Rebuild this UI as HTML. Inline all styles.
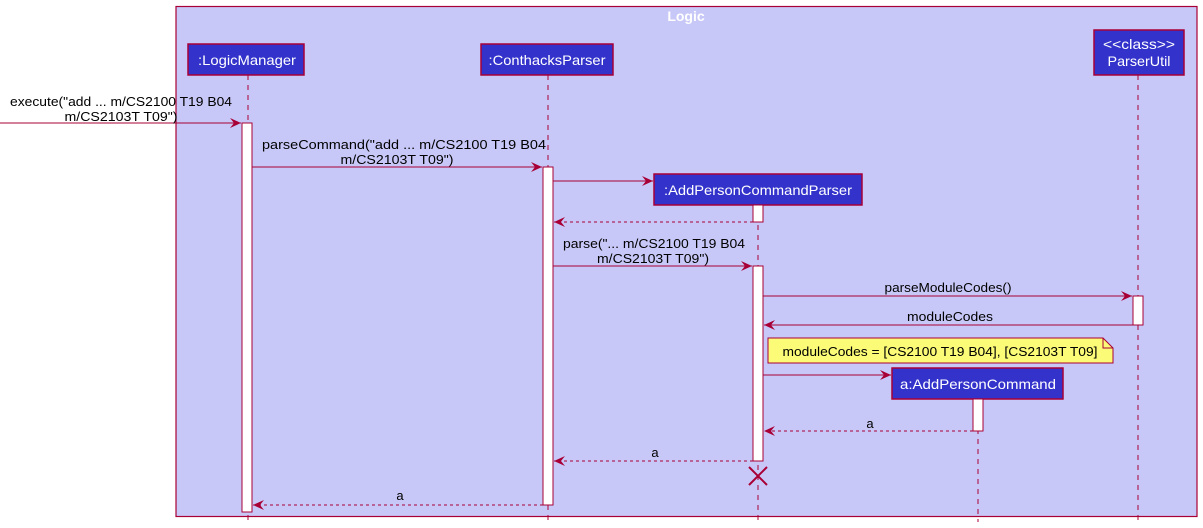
<!DOCTYPE html>
<html><head><meta charset="utf-8"><style>body{margin:0;background:#fff}svg{display:block}text{font-family:"Liberation Sans",sans-serif}</style></head><body>
<svg width="1203" height="528" viewBox="0 0 1203 528" xmlns="http://www.w3.org/2000/svg">
<defs>
<marker id="ah" markerWidth="12" markerHeight="10" refX="11" refY="5" orient="auto" markerUnits="userSpaceOnUse"><path d="M0,0 L11,5 L0,10 L4,5 Z" fill="#a80036"/></marker>
</defs>
<rect x="176" y="6.5" width="1021" height="510" fill="#c8c8f8" stroke="#a80036" stroke-width="1.2"/>
<text x="686" y="21" font-size="14" font-weight="bold" fill="#fff" text-anchor="middle">Logic</text>
<g stroke="#a80036" stroke-width="1" stroke-dasharray="5,5">
<line x1="248" y1="75" x2="248" y2="520"/>
<line x1="548" y1="75" x2="548" y2="520"/>
<line x1="758" y1="205" x2="758" y2="520"/>
<line x1="978" y1="399" x2="978" y2="522"/>
<line x1="1138" y1="75" x2="1138" y2="520"/>
</g>
<g fill="#3333cc" stroke="#a80036" stroke-width="1.5">
<rect x="188" y="44" width="116" height="31"/>
<rect x="481" y="44" width="132" height="31"/>
<rect x="1094" y="30" width="90" height="45"/>
<rect x="654" y="174" width="208" height="31"/>
<rect x="892" y="368" width="171" height="31"/>
</g>
<g fill="#fff" font-size="14" text-anchor="middle">
<text x="247" y="65" textLength="98" lengthAdjust="spacingAndGlyphs">:LogicManager</text>
<text x="547" y="65" textLength="117" lengthAdjust="spacingAndGlyphs">:ConthacksParser</text>
<text x="1139" y="49" textLength="72" lengthAdjust="spacingAndGlyphs">&lt;&lt;class&gt;&gt;</text>
<text x="1139" y="66" textLength="63" lengthAdjust="spacingAndGlyphs">ParserUtil</text>
<text x="758" y="195" textLength="188" lengthAdjust="spacingAndGlyphs">:AddPersonCommandParser</text>
<text x="978" y="389" textLength="156" lengthAdjust="spacingAndGlyphs">a:AddPersonCommand</text>
</g>
<g fill="#fff" stroke="#a80036" stroke-width="1">
<rect x="242" y="123" width="10" height="389"/>
<rect x="543" y="167" width="10" height="338"/>
<rect x="753" y="205" width="10" height="17"/>
<rect x="753" y="266" width="10" height="195"/>
<rect x="1133" y="296" width="10" height="29"/>
<rect x="973" y="399" width="10" height="32"/>
</g>
<g stroke="#a80036" stroke-width="1" fill="none">
<line x1="0" y1="123" x2="241" y2="123" marker-end="url(#ah)"/>
<line x1="252" y1="167" x2="542" y2="167" marker-end="url(#ah)"/>
<line x1="553" y1="181" x2="653" y2="181" marker-end="url(#ah)"/>
<line x1="753" y1="222" x2="554" y2="222" stroke-dasharray="3,3" marker-end="url(#ah)"/>
<line x1="553" y1="266" x2="752" y2="266" marker-end="url(#ah)"/>
<line x1="763" y1="296" x2="1132" y2="296" marker-end="url(#ah)"/>
<line x1="1133" y1="325" x2="764" y2="325" marker-end="url(#ah)"/>
<line x1="763" y1="375" x2="891" y2="375" marker-end="url(#ah)"/>
<line x1="973" y1="431" x2="764" y2="431" stroke-dasharray="3,3" marker-end="url(#ah)"/>
<line x1="753" y1="461" x2="554" y2="461" stroke-dasharray="3,3" marker-end="url(#ah)"/>
<line x1="543" y1="505" x2="253" y2="505" stroke-dasharray="3,3" marker-end="url(#ah)"/>
<path d="M749,467 L767,485 M767,467 L749,485" stroke-width="2"/>
</g>
<path d="M768,338 L1103,338 L1113,348 L1113,363 L768,363 Z" fill="#fbfb77" stroke="#a80036" stroke-width="1"/>
<path d="M1103,338 L1103,348 L1113,348" fill="none" stroke="#a80036" stroke-width="1"/>
<g font-size="13" fill="#000" text-anchor="middle">
<text x="121" y="106" textLength="222" lengthAdjust="spacingAndGlyphs">execute("add ... m/CS2100 T19 B04</text>
<text x="121" y="121" textLength="113" lengthAdjust="spacingAndGlyphs">m/CS2103T T09")</text>
<text x="404" y="149" textLength="284" lengthAdjust="spacingAndGlyphs">parseCommand("add ... m/CS2100 T19 B04</text>
<text x="397" y="164" textLength="113" lengthAdjust="spacingAndGlyphs">m/CS2103T T09")</text>
<text x="654" y="248" textLength="182" lengthAdjust="spacingAndGlyphs">parse("... m/CS2100 T19 B04</text>
<text x="653" y="263" textLength="112" lengthAdjust="spacingAndGlyphs">m/CS2103T T09")</text>
<text x="948" y="292" textLength="127" lengthAdjust="spacingAndGlyphs">parseModuleCodes()</text>
<text x="950" y="321" textLength="86" lengthAdjust="spacingAndGlyphs">moduleCodes</text>
<text x="940" y="356" textLength="315" lengthAdjust="spacingAndGlyphs">moduleCodes = [CS2100 T19 B04], [CS2103T T09]</text>
<text x="870" y="428">a</text>
<text x="655" y="457">a</text>
<text x="400" y="500">a</text>
</g>
</svg>
</body></html>
